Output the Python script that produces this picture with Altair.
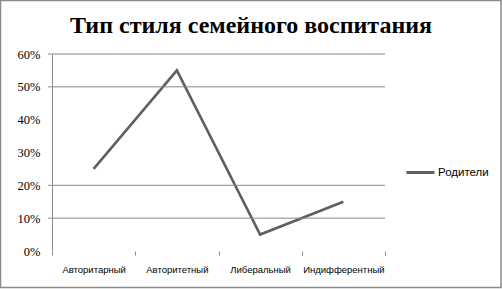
import altair as alt
import pandas as pd

# Share of parenting styles among surveyed parents
categories = ["Авторитарный", "Авторитетный", "Либеральный", "Индифферентный"]
values = [0.25, 0.55, 0.05, 0.15]
series_name = "Родители"
chart_title = "Тип стиля семейного воспитания"

# Y tick positions and the horizontal guide lines drawn across the plot
y_ticks = [0, 0.1, 0.2, 0.3, 0.4, 0.5, 0.6]
grid_values = [0.1, 0.2, 0.5, 0.6]

W, H = 333, 197

df = pd.DataFrame({"style": categories, "share": values, "series": [series_name] * len(categories)})
grid_df = pd.DataFrame({"v": grid_values})
title_df = pd.DataFrame({"t": [chart_title]})

y_scale = alt.Scale(domain=[0, 0.6])
y_axis = alt.Axis(
    title=None,
    values=y_ticks,
    format=".0%",
    grid=False,
    ticks=False,
    labelOverlap=False,
    labelFlush=False,
    domainColor="#8a8a8a",
    labelFont="Liberation Serif",
    labelFontSize=12.5,
    labelColor="#000000",
    labelPadding=12,
)

line = alt.Chart(df).mark_line(strokeWidth=2.6).encode(
    x=alt.X(
        "style:N",
        sort=categories,
        scale=alt.Scale(paddingInner=0, paddingOuter=0),
        axis=alt.Axis(
            title=None,
            labelAngle=0,
            domain=False,
            tickBand="extent",
            ticks=True,
            tickSize=4,
            tickColor="#8a8a8a",
            labelFont="Liberation Sans",
            labelFontSize=9.5,
            labelColor="#000000",
            labelPadding=9,
        ),
    ),
    y=alt.Y("share:Q", scale=y_scale, axis=y_axis),
    color=alt.Color(
        "series:N",
        scale=alt.Scale(domain=[series_name], range=["#5f5f5f"]),
        legend=alt.Legend(
            title=None,
            orient="none",
            legendX=353,
            legendY=103,
            symbolType="stroke",
            symbolSize=784,
            symbolStrokeWidth=3,
            labelFont="Liberation Sans",
            labelFontSize=11.5,
            labelColor="#000000",
            labelOffset=2,
        ),
    ),
)

grid = alt.Chart(grid_df).mark_rule(color="#8a8a8a", strokeWidth=1).encode(
    y=alt.Y("v:Q", scale=y_scale, axis=y_axis),
    x=alt.value(-4),
    x2=alt.value(W),
)

title = alt.Chart(title_df).mark_text(
    font="Liberation Serif",
    fontSize=24,
    fontWeight="bold",
    color="#000000",
    align="center",
    baseline="alphabetic",
).encode(
    text="t:N",
    x=alt.value(199),
    y=alt.value(-21),
)

# Outer frame around the whole figure
frame = alt.Chart(title_df).mark_rect(fill=None, stroke="#8a8a8a", strokeWidth=1.5).encode(
    x=alt.value(-51.5),
    x2=alt.value(449),
    y=alt.value(-53.5),
    y2=alt.value(233.5),
)

chart = alt.layer(line, grid, title, frame).properties(
    width=W,
    height=H,
    padding={"left": 52, "top": 54, "right": 117, "bottom": 38},
    autosize=alt.AutoSizeParams(type="none"),
    background="#ffffff",
).configure_view(stroke=None)

chart.save("out.html", embed_options={"renderer": "svg", "actions": False})
